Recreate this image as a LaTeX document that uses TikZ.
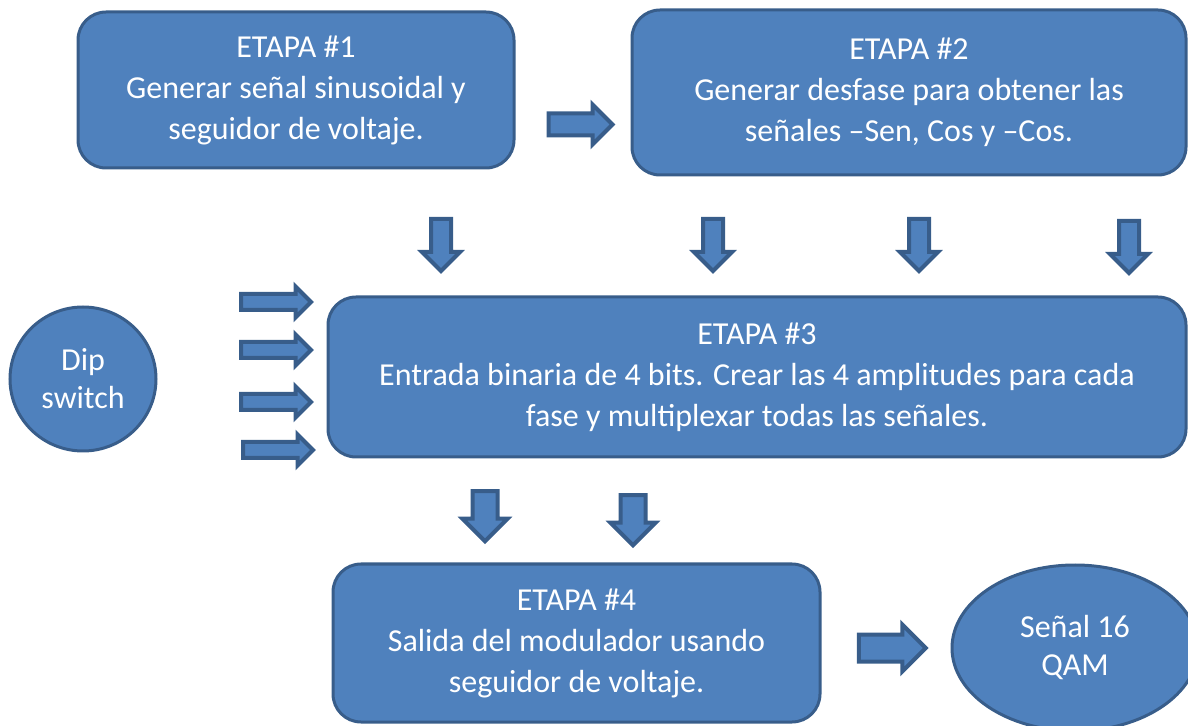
\documentclass[tikz,border=0pt]{standalone}
\usepackage{fontspec}
\setmainfont{Carlito}
\usetikzlibrary{shapes.geometric}
\usetikzlibrary{shapes.arrows}
\definecolor{boxblue}{HTML}{4F81BD}
\definecolor{edgeblue}{HTML}{385D8A}
\tikzset{etapa/.style={rectangle, rounded corners=14pt, draw=edgeblue, fill=boxblue,
      line width=1.5pt, text=white, align=center, inner sep=0pt,
      font=\fontsize{16}{20.5}\selectfont}}
\tikzset{oval/.style={ellipse, draw=edgeblue, fill=boxblue, line width=1.5pt,
      text=white, align=center, inner sep=0pt, font=\fontsize{16}{19}\selectfont}}
\tikzset{bigarrow/.style={single arrow, draw=edgeblue, fill=boxblue, line width=2pt,
      inner xsep=0pt, minimum width=0pt}}
\tikzset{arrowsize/.style n args={3}{minimum height=#1, inner ysep=#2,
      single arrow head extend=#3}}
\tikzset{pointdown/.style={rotate=-90}}

\begin{document}
\begin{tikzpicture}[x=0.5pt, y=-0.5pt]
		\useasboundingbox (0,0) rectangle (1188,726);
		\clip (0,0) rectangle (1188,726);
		% etapas
		\node[etapa, minimum width=218pt, minimum height=78pt] (etapa1) at (296,90)
			{ETAPA \#1\\Generar señal sinusoidal y\\seguidor de voltaje.};
		\node[etapa, minimum width=277pt, minimum height=82.5pt] (etapa2) at (909,92.5)
			{ETAPA \#2\\Generar desfase para obtener las\\señales –Sen, Cos y –Cos.};
		\node[etapa, minimum width=429pt, minimum height=80pt] (etapa3) at (757,377)
			{ETAPA \#3\\Entrada binaria de 4 bits. Crear las 4 amplitudes para cada\\fase y multiplexar todas las señales.};
		\node[etapa, minimum width=243.5pt, minimum height=79pt] (etapa4) at (576.5,643)
			{ETAPA \#4\\Salida del modulador usando\\seguidor de voltaje.};
		\node[oval, minimum width=73pt, minimum height=72pt] (dip) at (83,379) {Dip\\switch};
		\node[oval, minimum width=123pt, minimum height=83pt] (qam) at (1075,648) {Señal 16\\QAM};
		% flechas
		\node[bigarrow, arrowsize={32pt}{4.5pt}{4.5pt}] (a12) at (575,124.5) {};
		\foreach \x/\y [count=\i] in {441/240, 713/240, 919/240, 1129/242}
			\node[bigarrow, pointdown, arrowsize={26pt}{4pt}{4.5pt}] (b\i) at (\x,\y) {};
		\foreach \y [count=\i] in {302, 350, 402}
			\node[bigarrow, arrowsize={35pt}{3pt}{3.75pt}] (s\i) at (272,\y) {};
		\node[bigarrow, arrowsize={35pt}{3pt}{3.75pt}] (s4) at (274,450) {};
		\node[bigarrow, pointdown, arrowsize={25pt}{5.25pt}{5pt}] (c1) at (485,510) {};
		\node[bigarrow, pointdown, arrowsize={25pt}{5.25pt}{5pt}] (c2) at (633,514) {};
		\node[bigarrow, arrowsize={33.5pt}{5.75pt}{5pt}] (a4q) at (885.5,648) {};
\end{tikzpicture}
\end{document}
